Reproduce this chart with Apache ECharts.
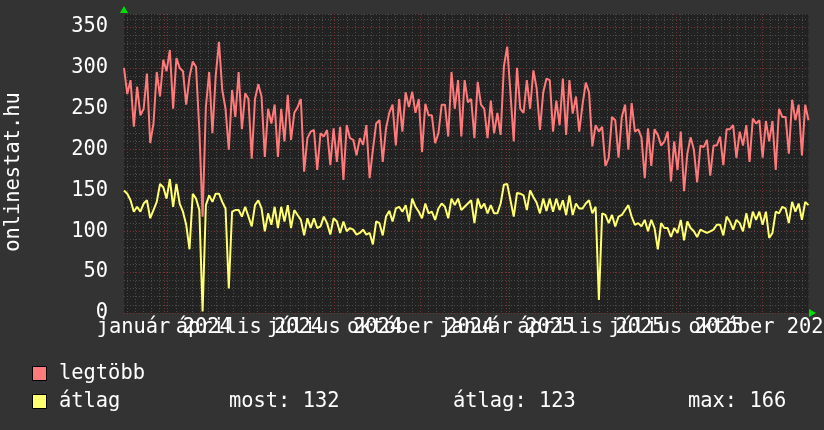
<!DOCTYPE html>
<html><head><meta charset="utf-8">
<script src="https://cdn.jsdelivr.net/npm/echarts@6/dist/echarts.min.js"></script>
<style>html,body{margin:0;padding:0;background:#333;}#c{width:824px;height:430px;}</style>
</head><body><div id="c"></div>
<script>
// day index 0 = 2023-11-19, one sample every 3.5 days
const stepDays = 3.5;
const legtobb = [
300,268,285,228,277,242,250,293,208,232,295,265,310,296,322,250,312,300,296,255,289,308,301,224,118,252,295,220,290,332,273,250,200,273,240,
295,225,269,262,189,262,280,265,191,250,232,255,191,250,210,267,212,245,252,262,173,214,222,224,175,220,216,224,181,226,185,228,163,230,214,
212,193,214,206,230,165,200,232,236,185,226,245,255,205,262,222,270,252,271,245,262,197,256,242,242,208,220,255,255,216,295,250,285,216,285,
258,262,214,283,255,250,214,260,220,245,218,302,326,269,210,300,250,245,285,250,297,275,224,270,287,285,222,260,230,287,218,285,244,265,222,
255,282,270,204,230,222,228,180,190,240,236,190,240,255,200,257,222,225,215,165,226,180,225,218,205,210,222,161,210,175,222,149,195,215,
200,160,205,203,212,168,205,205,216,181,225,225,230,190,222,205,230,185,238,232,236,190,235,210,235,175,250,240,240,195,261,236,255,193,255,236
];
const atlag = [
150,146,138,124,130,124,134,138,116,126,136,158,154,140,164,130,158,134,124,108,78,146,140,126,2,132,144,136,146,146,136,128,30,124,126,
126,118,130,118,106,132,138,128,100,122,108,130,104,130,112,132,104,126,120,114,95,116,104,116,104,106,118,110,96,116,112,98,112,100,104,
102,96,98,102,96,98,84,112,110,95,118,125,112,128,130,124,132,112,140,130,124,116,134,122,124,114,128,134,130,116,140,132,140,126,130,
134,138,110,140,128,134,122,132,122,122,134,157,158,138,118,147,146,144,126,150,142,135,122,140,125,140,124,140,126,138,120,144,120,134,128,
128,134,138,122,130,16,122,120,110,120,106,118,120,126,132,118,108,110,106,114,100,114,104,78,110,104,104,93,104,98,114,89,112,104,
100,93,102,100,98,100,102,108,108,95,118,112,102,114,110,100,122,104,124,114,124,108,124,92,98,124,122,130,128,110,136,124,134,114,136,132
];
const tickDays = [43,134,225,317,409,499,590,682];
const tickLabels = ['január 2024','április 2024','július 2024','október 2024','január 2025','április 2025','július 2025','október 2025'];
const yTicks = [0,50,100,150,200,250,300,350];
const seriesNames = ['legtöbb','átlag'];
const statLabels = ['most: 132','átlag: 123','max: 166'];
const yTitle = 'onlinestat.hu';

const FONT = 'DejaVu Sans Mono';
const FS = 20.4;
const RED = '#ff7a7a', YEL = '#ffff70';
const X_MAX = (legtobb.length - 1) * stepDays;
const Y_MAX = 366;
const toPairs = arr => arr.map((v, i) => [i * stepDays, v]);
// minor vertical grid (style only)
const minorX = [];
for (let d = 3.2; d < X_MAX; d += 8.7) minorX.push(d);
const evenDays = tickDays.filter((d, i) => i % 2 === 0);
const oddDays = tickDays.filter((d, i) => i % 2 === 1);
const labelFmt = v => tickLabels[tickDays.indexOf(v)] || '';

const chart = echarts.init(document.getElementById('c'), null, {renderer: 'canvas'});
const minorLine = {lineStyle: {color: '#4c4c4c', width: 1, type: [1, 2]}};
const majorLine = {lineStyle: {color: '#7a3434', width: 1, type: [1, 2]}};
const labelStyle = {hideOverlap: false, color: '#ffffff', fontFamily: FONT, fontSize: FS, margin: 5, formatter: labelFmt};
const fontStr = FS + 'px "' + FONT + '"';
chart.setOption({
  animation: false,
  backgroundColor: '#333333',
  grid: {left: 124, right: 15.5, top: 14, bottom: 117, show: true, backgroundColor: '#222222', borderWidth: 0,
         containLabel: false, outerBoundsMode: 'none'},
  xAxis: [
    {type: 'value', min: 0, max: X_MAX, z: 0, position: 'bottom',
     axisLine: {show: false}, axisTick: {show: false, customValues: minorX}, axisLabel: {show: false},
     splitLine: Object.assign({show: true}, minorLine)},
    {type: 'value', min: 0, max: X_MAX, z: 1, position: 'bottom',
     axisLine: {show: false},
     axisTick: {show: false, customValues: tickDays},
     axisLabel: Object.assign({customValues: evenDays}, labelStyle),
     splitLine: Object.assign({show: true}, majorLine)},
    {type: 'value', min: 0, max: X_MAX, z: 1, position: 'bottom',
     axisLine: {show: false}, axisTick: {show: false},
     axisLabel: Object.assign({customValues: oddDays}, labelStyle),
     splitLine: {show: false}}
  ],
  yAxis: [
    {type: 'value', min: 0, max: Y_MAX, interval: 10, z: 0, position: 'left',
     axisLine: {show: false}, axisTick: {show: false}, axisLabel: {show: false},
     splitLine: Object.assign({show: true}, minorLine)},
    {type: 'value', min: 0, max: Y_MAX, z: 1, position: 'left',
     axisLine: {show: false}, axisTick: {show: false, customValues: yTicks},
     axisLabel: {customValues: yTicks, formatter: v => String(v), hideOverlap: false,
       color: '#ffffff', fontFamily: FONT, fontSize: FS, margin: 16},
     splitLine: Object.assign({show: true}, majorLine)}
  ],
  series: [
    {name: seriesNames[0], type: 'line', xAxisIndex: 1, yAxisIndex: 1, data: toPairs(legtobb),
     showSymbol: false, lineStyle: {color: RED, width: 2}, itemStyle: {color: RED}, z: 3},
    {name: seriesNames[1], type: 'line', xAxisIndex: 1, yAxisIndex: 1, data: toPairs(atlag),
     showSymbol: false, lineStyle: {color: YEL, width: 2}, itemStyle: {color: YEL}, z: 4}
  ],
  graphic: [
    {type: 'text', x: 14, y: 172, rotation: Math.PI / 2,
     style: {text: yTitle, fill: '#ffffff', font: fontStr, align: 'center', verticalAlign: 'middle'}},
    {type: 'polygon', shape: {points: [[120, 13], [128, 13], [124, 6]]}, style: {fill: '#00e000'}},
    {type: 'polygon', shape: {points: [[809, 309], [809, 317], [816, 313]]}, style: {fill: '#00e000'}},
    {type: 'rect', shape: {x: 32.5, y: 366.5, width: 14, height: 14}, style: {fill: RED, stroke: '#000', lineWidth: 1}},
    {type: 'text', x: 59, y: 374, style: {text: seriesNames[0], fill: '#ffffff', font: fontStr, verticalAlign: 'middle'}},
    {type: 'rect', shape: {x: 32.5, y: 394.5, width: 14, height: 14}, style: {fill: YEL, stroke: '#000', lineWidth: 1}},
    {type: 'text', x: 59, y: 402, style: {text: seriesNames[1], fill: '#ffffff', font: fontStr, verticalAlign: 'middle'}},
    {type: 'text', x: 229, y: 402, style: {text: statLabels[0], fill: '#ffffff', font: fontStr, verticalAlign: 'middle'}},
    {type: 'text', x: 453, y: 402, style: {text: statLabels[1], fill: '#ffffff', font: fontStr, verticalAlign: 'middle'}},
    {type: 'text', x: 688, y: 402, style: {text: statLabels[2], fill: '#ffffff', font: fontStr, verticalAlign: 'middle'}}
  ]
});
</script></body></html>
